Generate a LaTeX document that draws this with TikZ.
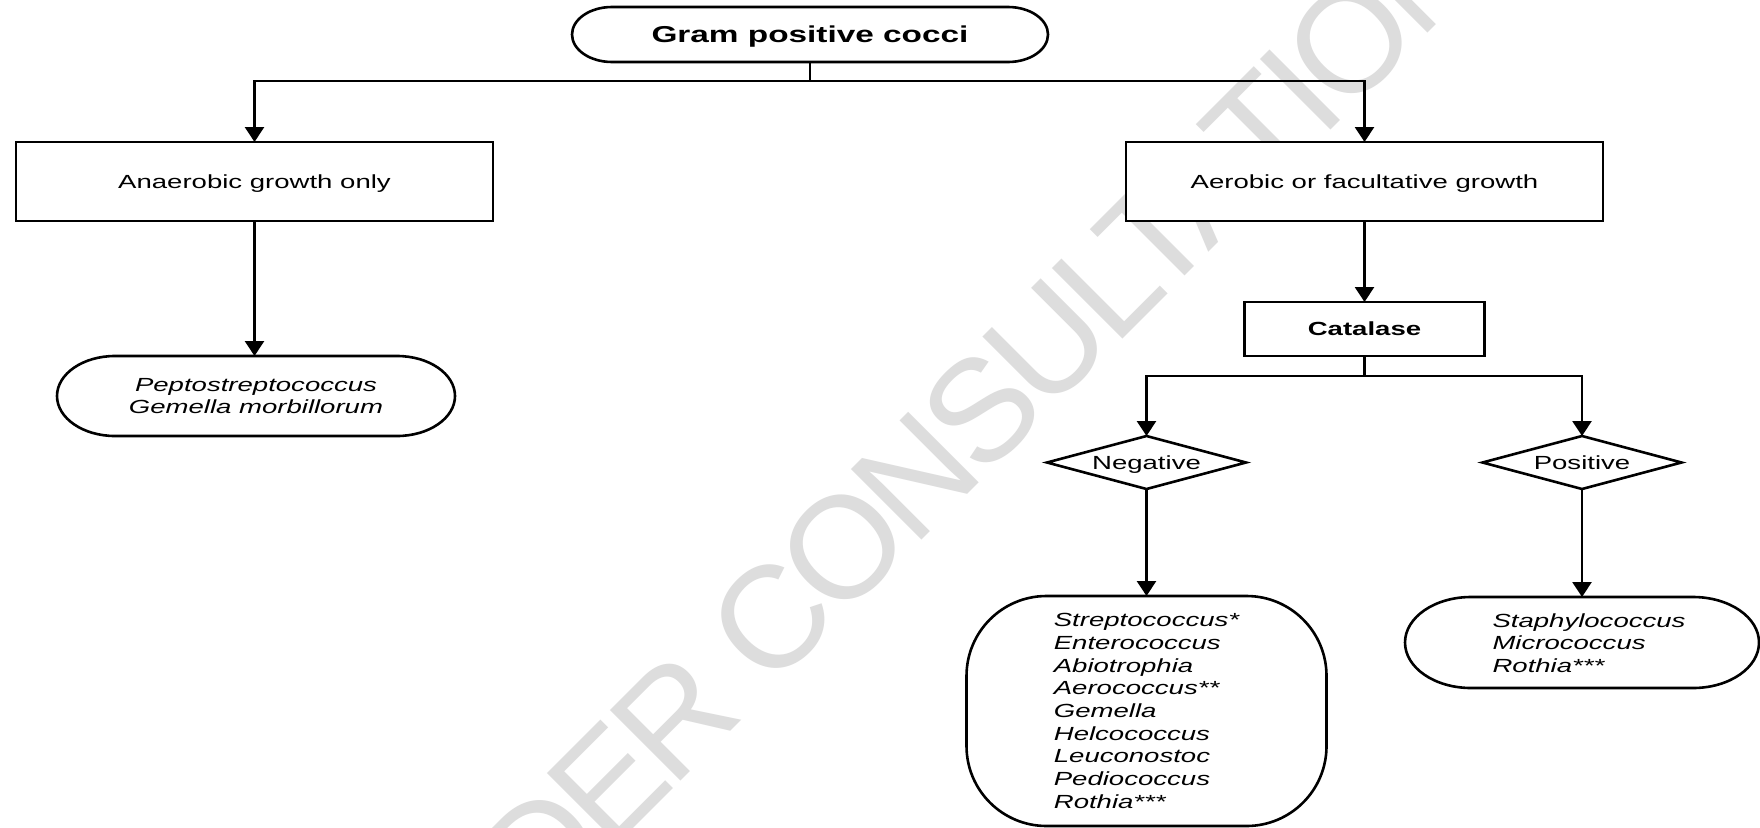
\documentclass[tikz,border=0pt]{standalone}
\usepackage{fontspec}
\setmainfont{Liberation Sans}[FakeStretch=1.45]
\newfontfamily\wmfont{Liberation Sans}[LetterSpace=-5]
\usetikzlibrary{arrows.meta,calc}
\definecolor{wmgray}{RGB}{221,221,221}
\tikzset{
  frame/.style={line width=2.6pt, black},
  conn/.style={line width=2.6pt, black},
  arr/.style={conn, -{Triangle[width=19pt,length=15pt]}},
  txt/.style={font=\fontsize{19}{22.7}\selectfont, inner sep=0pt, outer sep=0pt},
  capc/.style={text height=13.6pt, text depth=0pt},
  boxnode/.style={txt, capc, draw, line width=2.6pt, fill=white},
  listtxt/.style={txt, align=left, font=\fontsize{19}{22.7}\selectfont\itshape},
}
\newcommand{\ovalframe}[3]{%
  \draw[frame] ($(#1.north west)+(#2,0)$) -- ($(#1.north east)+(-#2,0)$)
    arc[start angle=-90,end angle=90,x radius=#2,y radius=#3]
    -- ($(#1.south west)+(#2,0)$)
    arc[start angle=90,end angle=270,x radius=#2,y radius=#3] -- cycle;}
\newcommand{\rrframe}[3]{%
  \draw[frame] ($(#1.north west)+(#2,0)$) -- ($(#1.north east)+(-#2,0)$)
    arc[start angle=-90,end angle=0,x radius=#2,y radius=#3]
    -- ($(#1.south east)+(0,-#3)$)
    arc[start angle=0,end angle=90,x radius=#2,y radius=#3]
    -- ($(#1.south west)+(#2,0)$)
    arc[start angle=90,end angle=180,x radius=#2,y radius=#3]
    -- ($(#1.north west)+(0,#3)$)
    arc[start angle=180,end angle=270,x radius=#2,y radius=#3] -- cycle;}
\newcommand{\diamondframe}[1]{%
  \draw[frame] (#1.north) -- (#1.east) -- (#1.south) -- (#1.west) -- cycle;}

\begin{document}
\begin{tikzpicture}[x=1pt,y=-1pt]
\useasboundingbox (0,0) rectangle (1760,827);
\fill[white] (0,0) rectangle (1760,827);
\begin{scope}
  \clip (0,0) rectangle (1760,827);
  \node[inner sep=0pt, text=wmgray, font=\wmfont\fontsize{145}{150}\selectfont, rotate=45] (wm) at (913,478) {UNDER CONSULTATION};
\end{scope}

% nodes
\node[txt, minimum width=476pt, minimum height=55pt, text height=16.5pt, text depth=0pt, font=\fontsize{23}{27}\selectfont\bfseries] (top) at (810,34.5) {Gram positive cocci};
\ovalframe{top}{40}{27.5}

\node[boxnode, minimum width=477pt, minimum height=79pt] (anaer) at (254.5,181.5) {Anaerobic growth only};
\node[boxnode, minimum width=477pt, minimum height=79pt] (aer) at (1364.5,181.5) {Aerobic or facultative growth};

\node[txt, align=center, minimum width=398pt, minimum height=80pt, font=\fontsize{19}{22}\selectfont\itshape] (pepto) at (256,396) {Peptostreptococcus\\Gemella morbillorum};
\ovalframe{pepto}{58}{40}

\node[boxnode, minimum width=240pt, minimum height=54pt, font=\fontsize{19}{22}\selectfont\bfseries] (cat) at (1364.5,329) {Catalase};

\node[txt, capc, minimum width=199pt, minimum height=53pt] (neg) at (1146.5,462.5) {Negative};
\diamondframe{neg}
\node[txt, capc, minimum width=199pt, minimum height=53pt] (pos) at (1582,462.5) {Positive};
\diamondframe{pos}

\node[listtxt, minimum width=360pt, minimum height=230pt] (neglist) at (1146.5,711) {Streptococcus*\\Enterococcus\\Abiotrophia\\Aerococcus**\\Gemella\\Helcococcus\\Leuconostoc\\Pediococcus\\Rothia***};
\rrframe{neglist}{80}{80}

\node[txt, minimum width=354pt, minimum height=91pt] (poslist) at (1582,642.5) {};
\ovalframe{poslist}{66}{45.5}
\node[listtxt] (poslisttxt) at (1589,643) {Staphylococcus\\Micrococcus\\Rothia***};

% connectors
\coordinate (j1) at (810,81);
\coordinate (j2) at (1364.5,376);
\draw[conn] (top.south) -- (j1);
\draw[arr] (j1) -| (anaer.north);
\draw[arr] (j1) -| (aer.north);
\draw[arr] (anaer.south) -- (anaer.south |- pepto.north);
\draw[arr] (aer.south) -- (cat.north);
\draw[conn] (cat.south) -- (j2);
\draw[arr] (j2) -| (neg.north);
\draw[arr] (j2) -| (pos.north);
\draw[arr] (neg.south) -- (neglist.north);
\draw[arr] (pos.south) -- (poslist.north);
\end{tikzpicture}
\end{document}
